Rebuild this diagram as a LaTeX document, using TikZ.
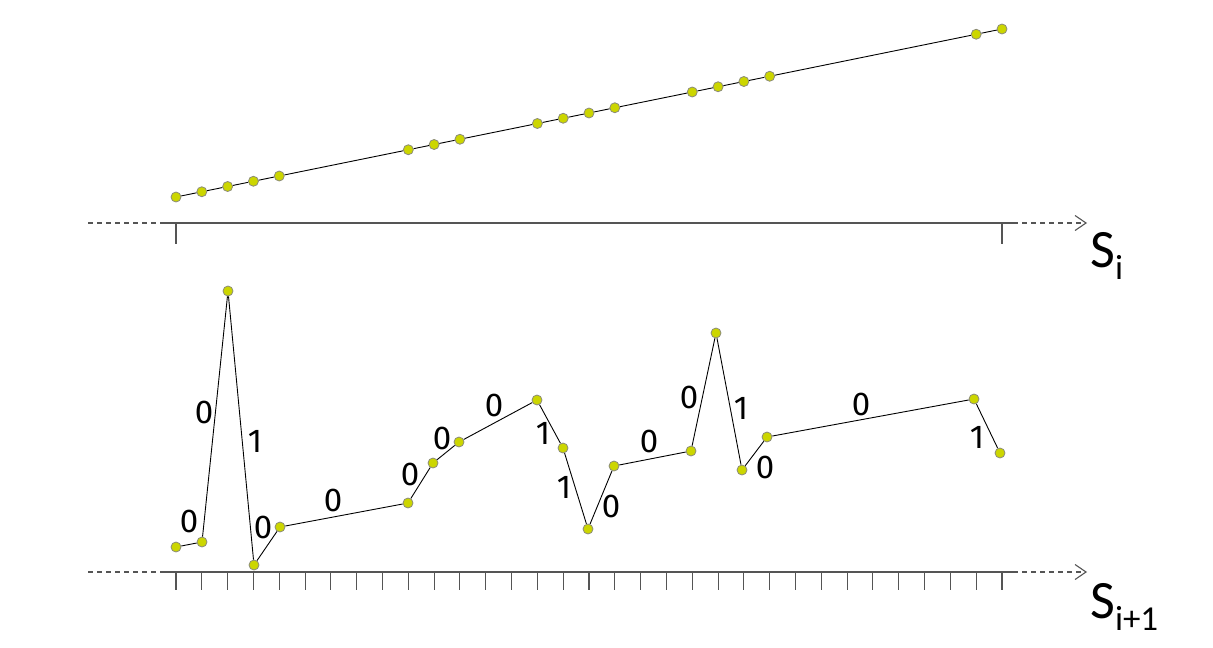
\documentclass[tikz,border=0pt]{standalone}
\usepackage{fontspec}
\setmainfont{Carlito}
\newfontfamily\digitfont{Fira Sans}
\usetikzlibrary{arrows.meta}
\definecolor{dotfill}{RGB}{204,214,0}
\definecolor{dotline}{RGB}{140,140,120}
\definecolor{axisgray}{RGB}{85,85,85}
\tikzset{
  pt/.style={circle,fill=dotfill,draw=dotline,line width=0.8pt,inner sep=0pt,minimum size=10pt},
  seg/.style={draw=black,line width=0.9pt},
  axisline/.style={draw=axisgray,line width=1.3pt},
  axisdash/.style={draw=axisgray,line width=1.1pt,dash pattern=on 5pt off 4pt},
  tickmark/.style={draw=axisgray,line width=1.1pt},
  bit/.style={font=\digitfont\fontsize{33}{33}\selectfont,inner sep=0pt},
  slabel/.style={font=\fontsize{54}{54}\selectfont,inner sep=0pt,anchor=base west},
}
\begin{document}
\begin{tikzpicture}[x=1pt,y=-1pt]
\useasboundingbox (0,0) rectangle (1213,648);
% axes
\coordinate (a1s) at (88,223);
\coordinate (a1l) at (165,223);
\coordinate (a1r) at (1013,223);
\coordinate (a1e) at (1087,223);
\coordinate (a2s) at (88,572);
\coordinate (a2l) at (165,572);
\coordinate (a2r) at (1013,572);
\coordinate (a2e) at (1087,572);
\draw[axisdash] (a1s) -- (a1l);
\draw[axisline] (a1l) -- (a1r);
\draw[axisdash,-{Straight Barb[length=11pt,width=15pt,line width=1.1pt]}] (a1r) -- (a1e);
\draw[axisdash] (a2s) -- (a2l);
\draw[axisline] (a2l) -- (a2r);
\draw[axisdash,-{Straight Barb[length=11pt,width=15pt,line width=1.1pt]}] (a2r) -- (a2e);
% ticks
\coordinate (tt0) at (176,223); \coordinate (tb0) at (176,244);
\coordinate (tt1) at (1002,223); \coordinate (tb1) at (1002,244);
\draw[tickmark] (tt0) -- (tb0);
\draw[tickmark] (tt1) -- (tb1);
\foreach \i in {0,...,32}{
  \coordinate (bt\i) at ({176+25.8125*\i},572);
  \coordinate (bb\i) at ({176+25.8125*\i},590);
  \draw[tickmark] (bt\i) -- (bb\i);
}
% labels S
\node[slabel] (si) at (1090,267) {S\raisebox{-12pt}{\fontsize{35}{35}\selectfont i}};
\node[slabel] (si1) at (1090,618) {S\raisebox{-12pt}{\fontsize{35}{35}\selectfont i+1}};
% top points
\foreach \i in {0,1,2,3,4,9,10,11,14,15,16,17,20,21,22,23,31,32}{
  \node[pt] (t\i) at ({176+25.8125*\i},{197-168*\i/32}) {};
}
\draw[seg] (t0) -- (t1) -- (t2) -- (t3) -- (t4) -- (t9) -- (t10) -- (t11) -- (t14) -- (t15) -- (t16) -- (t17) -- (t20) -- (t21) -- (t22) -- (t23) -- (t31) -- (t32);
% bottom points
\node[pt] (b0) at (176,547) {};
\node[pt] (b1) at (202,542) {};
\node[pt] (b2) at (228,291) {};
\node[pt] (b3) at (254,565) {};
\node[pt] (b4) at (280,527) {};
\node[pt] (b9) at (408,503) {};
\node[pt] (b10) at (433,463) {};
\node[pt] (b11) at (459,442) {};
\node[pt] (b14) at (537,400) {};
\node[pt] (b15) at (563,448) {};
\node[pt] (b16) at (588,529) {};
\node[pt] (b17) at (614,466) {};
\node[pt] (b20) at (691,451) {};
\node[pt] (b21) at (716,333) {};
\node[pt] (b22) at (742,470) {};
\node[pt] (b23) at (767,437) {};
\node[pt] (b31) at (974,399) {};
\node[pt] (b32) at (1000,453) {};
\draw[seg] (b0) -- (b1) -- (b2) -- (b3) -- (b4) -- (b9) -- (b10) -- (b11) -- (b14) -- (b15) -- (b16) -- (b17) -- (b20) -- (b21) -- (b22) -- (b23) -- (b31) -- (b32);
% bit labels
\node[bit] (l1) at (189,521) {0};
\node[bit] (l2) at (204,412) {0};
\node[bit] (l3) at (255,441) {1};
\node[bit] (l4) at (263,527) {0};
\node[bit] (l5) at (333,500) {0};
\node[bit] (l6) at (410,474) {0};
\node[bit] (l7) at (442,438) {0};
\node[bit] (l8) at (494,405) {0};
\node[bit] (l9) at (543,433) {1};
\node[bit] (l10) at (564,487) {1};
\node[bit] (l11) at (611,506) {0};
\node[bit] (l12) at (649,441) {0};
\node[bit] (l13) at (689,397) {0};
\node[bit] (l14) at (741,408) {1};
\node[bit] (l15) at (765,467) {0};
\node[bit] (l16) at (861,404) {0};
\node[bit] (l17) at (977,437) {1};
\end{tikzpicture}
\end{document}
